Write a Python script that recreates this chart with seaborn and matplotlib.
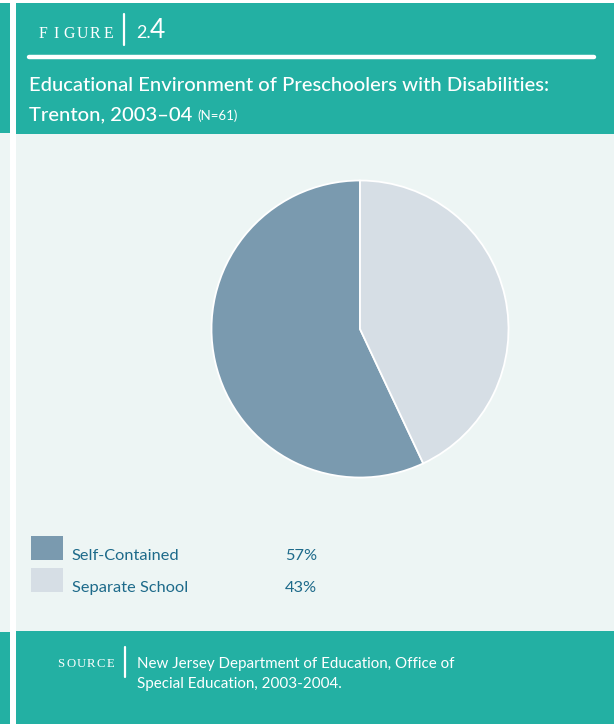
import matplotlib
matplotlib.use("Agg")
import matplotlib.pyplot as plt
from matplotlib.patches import Rectangle
from matplotlib.lines import Line2D
import seaborn as sns

# Data
categories = ["Self-Contained", "Separate School"]
shares = [57, 43]
slice_colors = ["#7A9AAF", "#D6DEE5"]
fig_label = "FIGURE"
fig_number = ("2.", "4")
title_line1 = "Educational Environment of Preschoolers with Disabilities:"
title_line2 = "Trenton, 2003\u201304"
title_note = "(N=61)"
source_label = "SOURCE"
source_lines = ["New Jersey Department of Education, Office of",
                "Special Education, 2003-2004."]

TEAL = "#23B0A3"
PANEL = "#EDF5F4"
TEXT_BLUE = "#1D6A8A"
W, H = 614, 724

sns.set_style("white")
plt.rcParams["font.family"] = ["Lato", "DejaVu Sans"]

fig = plt.figure(figsize=(W / 100, H / 100), dpi=100)
fig.patch.set_facecolor("white")


def fx(x):
    return x / W


def fy(y):
    return 1 - y / H


def box(x0, y0, x1, y1, color):
    fig.add_artist(Rectangle((fx(x0), fy(y1)), (x1 - x0) / W, (y1 - y0) / H,
                             transform=fig.transFigure, facecolor=color,
                             edgecolor="none", zorder=0))


# Page blocks: narrow side strip, header band, body panel, footer band
box(0, 3, 10, 133, TEAL)
box(0, 133, 10, 632, PANEL)
box(0, 632, 10, H, TEAL)
box(16, 3, W, 134, TEAL)
box(16, 134, W, 631, PANEL)
box(16, 631, W, H, TEAL)

# Header rule and dividers
fig.add_artist(Line2D([fx(29), fx(594)], [fy(56.5), fy(56.5)], color="white",
                      lw=3.2, transform=fig.transFigure))
fig.add_artist(Line2D([fx(124), fx(124)], [fy(14), fy(45)], color="white",
                      lw=1.6, transform=fig.transFigure))
fig.add_artist(Line2D([fx(125), fx(125)], [fy(647), fy(677)], color="white",
                      lw=1.6, transform=fig.transFigure))

# Spaced small-caps labels
for i, ch in enumerate(fig_label):
    fig.text(fx(42.5 + i * 13.2), fy(38), ch, color="white", fontsize=11.4,
             family=["Liberation Serif"], ha="center", va="baseline")
for i, ch in enumerate(source_label):
    fig.text(fx(61 + i * 10.0), fy(667), ch, color="white", fontsize=9.2,
             family=["Liberation Serif"], ha="center", va="baseline")

num_a = fig.text(fx(136), fy(38), fig_number[0], color="white", fontsize=13,
                 ha="left", va="baseline")
fig.canvas.draw()
num_a_right = num_a.get_window_extent().x1
fig.text((num_a_right - 1) / W, fy(38), fig_number[1], color="white",
         fontsize=19, ha="left", va="baseline")

# Title
fig.text(fx(29), fy(91), title_line1, color="white", fontsize=14.6,
         fontweight="medium", ha="left", va="baseline")
t2 = fig.text(fx(29), fy(120), title_line2, color="white", fontsize=14.6,
              fontweight="medium", ha="left", va="baseline")
fig.canvas.draw()
t2_right = t2.get_window_extent().x1
fig.text((t2_right + 5) / W, fy(120), title_note, color="white", fontsize=9.5,
         ha="left", va="baseline")

# Pie
ax = fig.add_axes([fx(210), fy(479), 300 / W, 300 / H])
ax.pie(shares, colors=slice_colors, startangle=90, counterclock=True,
       wedgeprops=dict(edgecolor="white", linewidth=1.3))
ax.set_xlim(-1.01, 1.01)
ax.set_ylim(-1.01, 1.01)
ax.set_aspect("equal")
ax.axis("off")

# Legend
for i, (cat, val, col) in enumerate(zip(categories, shares, slice_colors)):
    top = 536 + i * 32
    box(31, top, 63, top + 24, col)
    fig.text(fx(72), fy(top + 24), cat, color=TEXT_BLUE, fontsize=11.8,
             ha="left", va="baseline")
    fig.text(fx(285), fy(top + 24), f"{val}%", color=TEXT_BLUE, fontsize=11.8,
             ha="left", va="baseline")

# Source
for i, line in enumerate(source_lines):
    fig.text(fx(137), fy(668 + i * 20), line, color="white", fontsize=10.9,
             ha="left", va="baseline")

fig.savefig("out.png", dpi=100, facecolor=fig.get_facecolor())
